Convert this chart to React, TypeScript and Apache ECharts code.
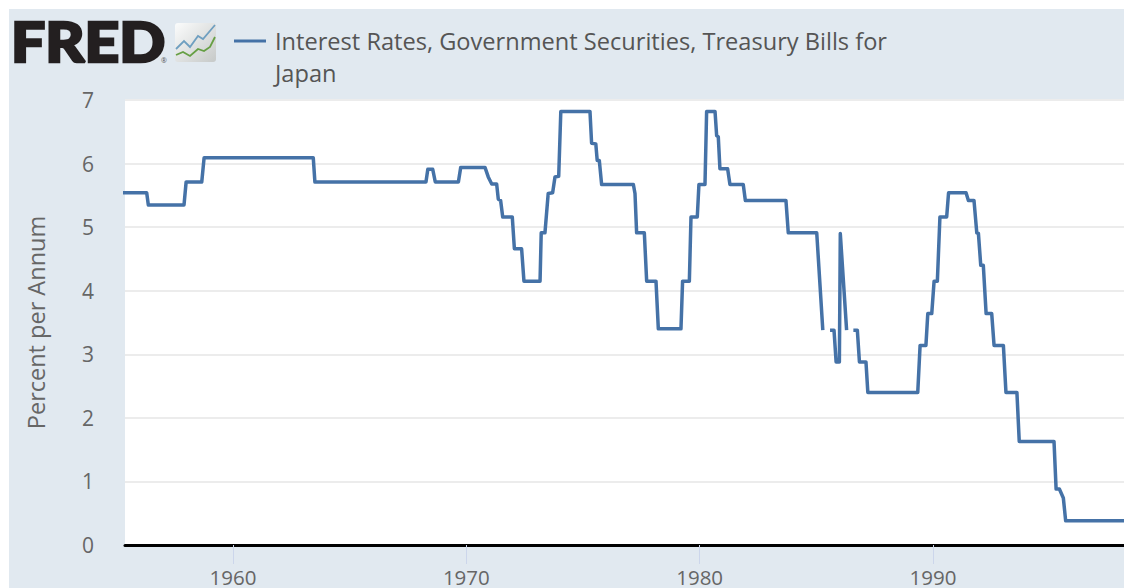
import React, { useEffect, useRef } from "react";
import * as echarts from "echarts";

const seriesName = "Interest Rates, Government Securities, Treasury Bills for Japan";
const yTicks = [0, 1, 2, 3, 4, 5, 6, 7];
const xTicks = [1960, 1970, 1980, 1990];

const years: number[] = [
  1955.25, 1956.3, 1956.37, 1957.9, 1957.99, 1958.66, 1958.76, 1963.44, 1963.51, 1968.27,
  1968.35, 1968.56, 1968.67, 1969.66, 1969.76, 1970.8, 1970.94, 1971.09, 1971.3, 1971.37,
  1971.47, 1971.56, 1971.97, 1972.06, 1972.37, 1972.47, 1973.16, 1973.21, 1973.37, 1973.51,
  1973.7, 1973.8, 1973.96, 1974.05, 1975.3, 1975.37, 1975.55, 1975.61, 1975.7, 1975.8,
  1977.16, 1977.23, 1977.3, 1977.63, 1977.73, 1978.13, 1978.23, 1979.2, 1979.27, 1979.56,
  1979.63, 1979.9, 1979.97, 1980.23, 1980.3, 1980.66, 1980.73, 1980.8, 1980.87, 1981.2,
  1981.3, 1981.87, 1981.96, 1983.7, 1983.8, 1985.02, 1985.28, 1985.4, 1985.59, 1985.76,
  1985.85, 1985.99, 1986.03, 1986.3, 1986.45, 1986.59, 1986.76, 1986.85, 1987.13, 1987.21,
  1989.35, 1989.45, 1989.7, 1989.78, 1989.95, 1990.05, 1990.19, 1990.3, 1990.59, 1990.67,
  1991.42, 1991.52, 1991.76, 1991.88, 1991.95, 1992.05, 1992.16, 1992.28, 1992.52, 1992.62,
  1993.02, 1993.13, 1993.6, 1993.7, 1995.19, 1995.28, 1995.42, 1995.59, 1995.69, 1998.25,
];
const rates: (number | null)[] = [
  5.54, 5.54, 5.35, 5.35, 5.71, 5.71, 6.09, 6.09, 5.71, 5.71,
  5.91, 5.91, 5.71, 5.71, 5.94, 5.94, 5.79, 5.68, 5.68, 5.44,
  5.42, 5.16, 5.16, 4.66, 4.66, 4.15, 4.15, 4.91, 4.91, 5.53,
  5.54, 5.79, 5.8, 6.82, 6.82, 6.32, 6.31, 6.05, 6.05, 5.67,
  5.67, 5.53, 4.91, 4.91, 4.15, 4.15, 3.4, 3.4, 4.15, 4.15,
  5.16, 5.16, 5.67, 5.67, 6.82, 6.82, 6.44, 6.42, 5.92, 5.92,
  5.67, 5.67, 5.42, 5.42, 4.91, 4.91, 3.38, null, 3.38, 3.38,
  2.88, 2.88, 4.9, 3.38, null, 3.38, 3.38, 2.88, 2.88, 2.4,
  2.4, 3.14, 3.14, 3.64, 3.64, 4.15, 4.15, 5.16, 5.16, 5.54,
  5.54, 5.42, 5.42, 4.91, 4.9, 4.4, 4.4, 3.64, 3.64, 3.14,
  3.14, 2.4, 2.4, 1.63, 1.63, 0.88, 0.88, 0.74, 0.38, 0.38,
];

const blue = "#4572a7";
const grey = "#666666";
const font = "'Open Sans', sans-serif";

export default function App() {
  const ref = useRef<HTMLDivElement>(null);
  useEffect(() => {
    const chart = echarts.init(ref.current!, undefined, { renderer: "svg" });
    chart.setOption({
      animation: false,
      backgroundColor: "#ffffff",
      grid: {
        left: 125,
        top: 100,
        right: 0,
        bottom: 43,
        show: true,
        backgroundColor: "#ffffff",
        borderWidth: 0,
      },
      xAxis: {
        type: "value",
        min: 1955.37,
        max: 1998.19,
        splitLine: { show: false },
        axisLine: { show: true, onZero: false, lineStyle: { color: "#000000", width: 3 } },
        axisTick: {
          show: true,
          length: 19,
          customValues: xTicks,
          lineStyle: { color: "#ccd6eb", width: 1 },
        },
        axisLabel: {
          customValues: xTicks,
          color: grey,
          fontFamily: font,
          fontSize: 20.5,
          lineHeight: 20,
          margin: 22,
          formatter: (v: number) => String(v),
        },
      },
      yAxis: {
        type: "value",
        min: 0,
        max: 7,
        interval: 1,
        name: "Percent per Annum",
        nameLocation: "middle",
        nameGap: 77,
        nameRotate: 90,
        nameTextStyle: { color: grey, fontFamily: font, fontSize: 23.5 },
        axisLine: { show: false },
        axisTick: { show: false },
        axisLabel: {
          color: grey,
          fontFamily: font,
          fontSize: 21,
          margin: 31,
          formatter: (v: number) => (yTicks.includes(v) ? String(v) : ""),
        },
        splitLine: { show: true, lineStyle: { color: "#ececec", width: 2 } },
      },
      series: [
        {
          type: "line",
          name: seriesName,
          data: years.map((y, i) => [y, rates[i]]),
          showSymbol: false,
          symbol: "none",
          connectNulls: false,
          lineStyle: { color: blue, width: 3.5, join: "round" },
          z: 3,
        },
      ],
      graphic: [
        {
          type: "rect",
          z: -1,
          silent: true,
          shape: { x: 9, y: 9, width: 1115, height: 579 },
          style: { fill: "#e1e9f0" },
        },
        {
          type: "text",
          x: 11,
          y: 12,
          scaleX: 1.08,
          style: {
            text: "FRED",
            font: `900 56px Lato, 'Open Sans', sans-serif`,
            fill: "#231f20",
            stroke: "#231f20",
            lineWidth: 2.5,
          },
        },
        {
          type: "text",
          x: 161,
          y: 57,
          style: { text: "®", font: `7px ${font}`, fill: "#555555" },
        },
        {
          type: "rect",
          shape: { x: 175, y: 23, width: 41, height: 39, r: 3 },
          style: {
            fill: new echarts.graphic.LinearGradient(0, 0, 1, 1, [
              { offset: 0, color: "#fbfcfc" },
              { offset: 1, color: "#c6c9c8" },
            ]),
          },
        },
        {
          type: "polyline",
          shape: { points: [[176, 49], [184, 41], [190, 47], [198, 36], [203, 39], [215, 25]] },
          style: { stroke: "#6f9fc0", lineWidth: 1.8, fill: "none" },
        },
        {
          type: "polyline",
          shape: { points: [[176, 55], [183, 52], [190, 56], [198, 49], [204, 51], [210, 47], [215, 37]] },
          style: { stroke: "#669f44", lineWidth: 1.8, fill: "none" },
        },
        {
          type: "line",
          shape: { x1: 234, y1: 41, x2: 266, y2: 41 },
          style: { stroke: blue, lineWidth: 3 },
        },
        {
          type: "text",
          x: 275,
          y: 25,
          style: {
            text: "Interest Rates, Government Securities, Treasury Bills for\nJapan",
            font: `23.6px ${font}`,
            fill: "#555555",
            lineHeight: 32,
          },
        },
      ],
    });
    return () => chart.dispose();
  }, []);
  return <div ref={ref} style={{ position: "absolute", left: 0, top: 0, width: 1124, height: 588 }} />;
}
